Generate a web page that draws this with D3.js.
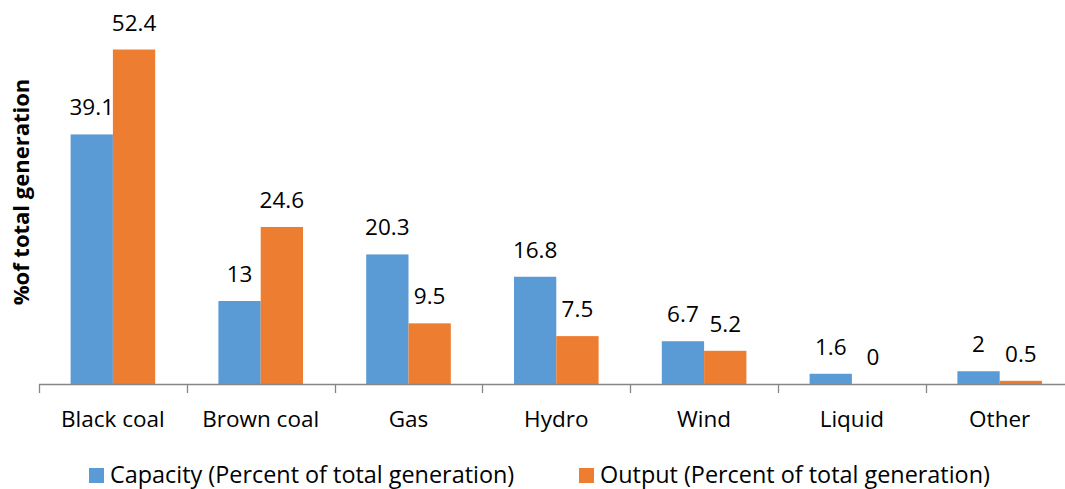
<!DOCTYPE html>
<html>
<head>
<meta charset="utf-8">
<script src="https://cdn.jsdelivr.net/npm/d3@7"></script>
<style>
  html, body { margin: 0; padding: 0; background: #fff; }
  svg { display: block; font-family: "Open Sans", sans-serif; }
</style>
</head>
<body>
<svg id="chart" width="1065" height="489"></svg>
<script>
// Generation mix by fuel type
const categories = ["Black coal", "Brown coal", "Gas", "Hydro", "Wind", "Liquid", "Other"];
const seriesNames = ["Capacity (Percent of total generation)", "Output (Percent of total generation)"];
const capacity = [39.1, 13, 20.3, 16.8, 6.7, 1.6, 2];
const output = [52.4, 24.6, 9.5, 7.5, 5.2, 0, 0.5];
const colors = ["#5B9BD5", "#ED7D31"];
const yAxisTitle = "%of total generation";

const svg = d3.select("#chart");
const plotLeft = 39, plotBottom = 384, plotTop = 1;
const step = 147.8;

const x = d3.scaleBand()
  .domain(categories)
  .range([plotLeft, plotLeft + step * categories.length])
  .paddingInner(0).paddingOuter(0);

const xSub = d3.scaleBand()
  .domain(seriesNames)
  .range([x.bandwidth() * 0.2138, x.bandwidth() * 0.7862])
  .paddingInner(0).paddingOuter(0);

const y = d3.scaleLinear().domain([0, 60]).range([plotBottom, plotTop]);

const rows = categories.map((c, i) => ({ cat: c, vals: [capacity[i], output[i]] }));

// bars
const groups = svg.append("g").selectAll("g")
  .data(rows).join("g")
  .attr("transform", d => `translate(${x(d.cat)},0)`);

groups.selectAll("rect")
  .data(d => d.vals.map((v, k) => ({ v, k })))
  .join("rect")
  .attr("x", d => xSub(seriesNames[d.k]))
  .attr("width", xSub.bandwidth())
  .attr("y", d => y(d.v))
  .attr("height", d => y(0) - y(d.v))
  .attr("fill", d => colors[d.k]);

// value labels
groups.selectAll("text")
  .data(d => d.vals.map((v, k) => ({ v, k })))
  .join("text")
  .attr("x", d => xSub(seriesNames[d.k]) + xSub.bandwidth() / 2)
  .attr("y", d => y(d.v) - 19)
  .attr("text-anchor", "middle")
  .attr("font-size", 22.5)
  .attr("fill", "#000")
  .text(d => d.v);

// category axis: baseline with boundary ticks
const axisG = svg.append("g");
const boundaries = d3.range(categories.length + 1).map(i => plotLeft + i * step);
axisG.append("line")
  .attr("x1", plotLeft).attr("x2", boundaries[boundaries.length - 1])
  .attr("y1", plotBottom + 0.5).attr("y2", plotBottom + 0.5)
  .attr("stroke", "#868686").attr("stroke-width", 1.3);
axisG.selectAll("line.tick")
  .data(boundaries).join("line")
  .attr("class", "tick")
  .attr("x1", d => Math.round(d) + 0.5).attr("x2", d => Math.round(d) + 0.5)
  .attr("y1", plotBottom).attr("y2", plotBottom + 9)
  .attr("stroke", "#868686").attr("stroke-width", 1.3);

axisG.selectAll("text.cat")
  .data(categories).join("text")
  .attr("class", "cat")
  .attr("x", d => x(d) + x.bandwidth() / 2)
  .attr("y", 427)
  .attr("text-anchor", "middle")
  .attr("font-size", 22.5)
  .attr("fill", "#000")
  .text(d => d);

// y axis title
svg.append("text")
  .attr("transform", "translate(29,192) rotate(-90)")
  .attr("text-anchor", "middle")
  .attr("font-size", 22)
  .attr("font-weight", "bold")
  .attr("fill", "#000")
  .text(yAxisTitle);

// legend
const legendX = [89, 579];
const legend = svg.append("g").selectAll("g")
  .data(seriesNames).join("g")
  .attr("transform", (d, i) => `translate(${legendX[i]},468)`);
legend.append("rect")
  .attr("width", 15).attr("height", 15)
  .attr("fill", (d, i) => colors[i]);
legend.append("text")
  .attr("x", 21).attr("y", 15)
  .attr("font-size", 23.4)
  .attr("fill", "#000")
  .text(d => d);
</script>
</body>
</html>
